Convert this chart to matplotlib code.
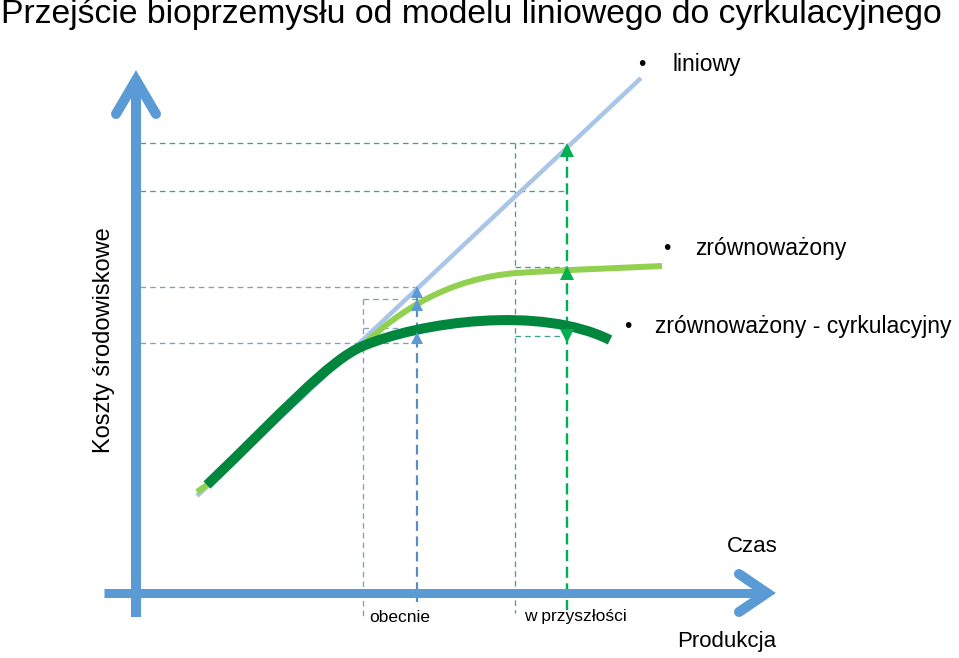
"""
Przejście bioprzemysłu - schemat liniowy vs cyrkulacyjny
"""

import matplotlib
matplotlib.use("Agg")
import matplotlib.pyplot as plt
from matplotlib.path import Path
from matplotlib.patches import PathPatch

plt.rcParams["font.family"] = ["Liberation Sans", "DejaVu Sans"]
plt.rcParams["lines.scale_dashes"] = False

W, H = 959, 658
PT = 0.72  # pixels -> points at dpi 100

# --------------------------------------------------
# data (pixel coordinates)

TITLE = "Przejście bioprzemysłu od modelu liniowego do cyrkulacyjnego"
Y_LABEL = "Koszty środowiskowe"
X_LABEL_TOP = "Czas"
X_LABEL_BOTTOM = "Produkcja"
TIME_LABELS = ["obecnie", "w przyszłości"]
SERIES_LABELS = ["liniowy", "zrównoważony", "zrównoważony - cyrkulacyjny"]

linear_x = [197, 641]
linear_y = [496, 78]

# start, then bezier control/anchor points (c, c, anchor, ...)
sustain_x = [197, 207, 280, 329, 363, 400, 450, 517, 560, 620, 662]
sustain_y = [492, 485, 415, 360, 345, 310, 278, 273, 270, 268, 266]

circular_x = [207, 280, 329, 363, 420, 540, 610]
circular_y = [485, 415, 360, 346, 322, 305, 340]

now_x = 417
future_x = 567
now_ref_x = 363
future_ref_x = 515

# --------------------------------------------------

fig = plt.figure(figsize=(W / 100, H / 100), dpi=100)
ax = fig.add_axes([0, 0, 1, 1])
ax.set_xlim(0, W)
ax.set_ylim(H, 0)
ax.axis("off")

teal = "#3fa08e"
greyblue = "#7f9fc2"
blue_axis = "#5b9bd5"

thin = dict(lw=1.3 * PT, ls=(0, (4, 3)), zorder=2)


def curve(xs, ys, color, width, z, stub=False):
    codes = [Path.MOVETO]
    if stub:
        codes.append(Path.LINETO)
    codes += [Path.CURVE4] * (len(xs) - len(codes))
    path = Path(list(zip(xs, ys)), codes)
    ax.add_patch(PathPatch(path, fill=False, edgecolor=color, linewidth=width * PT,
                           capstyle="butt", joinstyle="round", zorder=z))


# guide lines: future
ax.plot([140, future_x], [143, 143], color=teal, **thin)
ax.plot([140, future_x], [191, 191], color=teal, **thin)
ax.plot([future_ref_x, future_x], [267, 267], color=teal, **thin)
ax.plot([future_ref_x, future_x], [336, 336], color=teal, **thin)
ax.plot([future_ref_x, future_ref_x], [143, 613], color=teal, **thin)

# guide lines: now
ax.plot([140, now_x], [287, 287], color=greyblue, **thin)
ax.plot([now_ref_x, now_x], [299, 299], color=greyblue, **thin)
ax.plot([now_ref_x, now_x], [328, 328], color=greyblue, **thin)
ax.plot([140, now_x], [343, 343], color=greyblue, **thin)
ax.plot([now_ref_x, now_ref_x], [299, 618], color=greyblue, **thin)

# vertical arrows
ax.plot([now_x, now_x], [292, 602], color="#5a8cc4", lw=2.2 * PT,
        ls=(0, (7, 4)), zorder=2.5)
ax.plot([future_x, future_x], [150, 610], color="#00b050", lw=2.4 * PT,
        ls=(0, (8, 4)), zorder=2.5)

# curves
ax.plot(linear_x, linear_y, color="#a9c6e8", lw=4.5 * PT, solid_capstyle="butt", zorder=3)
curve(sustain_x, sustain_y, "#92d050", 6, 4, stub=True)
curve(circular_x, circular_y, "#00873d", 10, 5)

# arrow heads
for y in [292, 305, 338]:
    ax.plot(now_x, y, marker="^", ms=9, color="#5b9bd5", mew=0, zorder=6)
ax.plot(future_x, 150, marker="^", ms=10, color="#00b050", mew=0, zorder=6)
ax.plot(future_x, 273, marker="^", ms=10, color="#00b050", mew=0, zorder=6)
ax.plot(future_x, 336, marker="v", ms=10, color="#00b050", mew=0, zorder=6)

# axes arrows
ax.plot([136, 136], [617, 80], color=blue_axis, lw=10 * PT, solid_capstyle="butt", zorder=7)
ax.plot([116, 136, 156], [114, 80, 114], color=blue_axis, lw=10 * PT,
        solid_capstyle="round", solid_joinstyle="miter", zorder=7)
ax.plot([104, 766], [593, 593], color=blue_axis, lw=9 * PT, solid_capstyle="butt", zorder=7)
ax.plot([739, 767, 739], [574, 593, 612], color=blue_axis, lw=10 * PT,
        solid_capstyle="round", solid_joinstyle="miter", zorder=7)

# texts
ax.text(1, 23, TITLE, fontsize=24.3, ha="left", va="baseline")
ax.text(104, 340, Y_LABEL, fontsize=17, rotation=90, ha="center", va="center")
ax.text(778, 547, X_LABEL_TOP, fontsize=16, ha="right", va="center")
ax.text(776, 642, X_LABEL_BOTTOM, fontsize=16, ha="right", va="center")
ax.text(369, 617, TIME_LABELS[0], fontsize=12.5, ha="left", va="center")
ax.text(524, 617, TIME_LABELS[1], fontsize=12.5, ha="left", va="center")

for bx, tx, y, label in [(642, 672, 64, SERIES_LABELS[0]),
                         (667, 695, 249, SERIES_LABELS[1]),
                         (628, 655, 327, SERIES_LABELS[2])]:
    ax.text(bx, y, "•", fontsize=15, ha="center", va="center")
    ax.text(tx, y, label, fontsize=16.5, ha="left", va="center")

fig.savefig("out.png", dpi=100)
plt.close(fig)
